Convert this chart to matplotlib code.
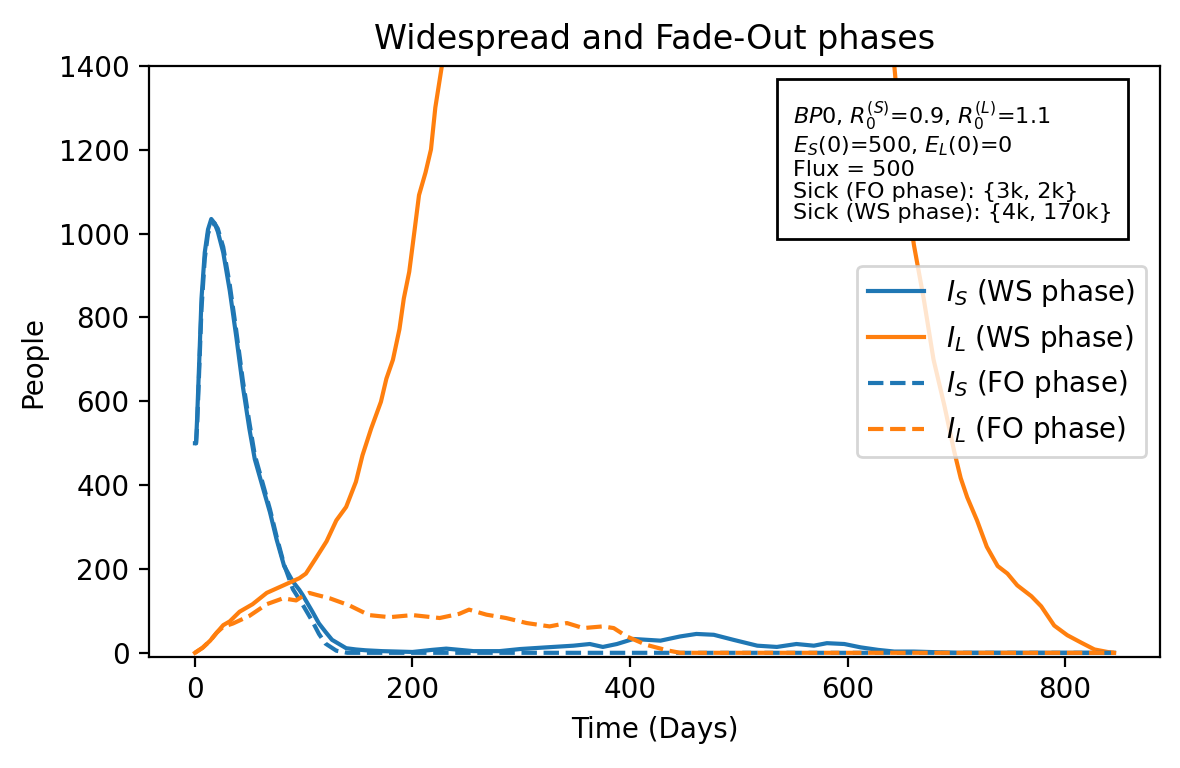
import matplotlib
matplotlib.use("Agg")
import matplotlib.pyplot as plt

# ---- data ----
t_is_ws = [0, 1, 2, 4, 6, 9, 12, 15, 18, 21, 26, 32, 38, 44, 50, 55, 63, 69, 75, 82, 90, 96, 99,
           108, 114, 120, 126, 139, 148, 157, 172, 200, 218, 231, 256, 280, 299, 323, 348, 363,
           375, 388, 403, 428, 446, 461, 477, 495, 517, 535, 553, 569, 581, 597, 612, 628, 643,
           661, 700, 750, 800, 845]
v_is_ws = [500, 500, 560, 700, 845, 955, 1010, 1035, 1025, 1005, 955, 864, 754, 636, 535, 462,
           389, 335, 271, 207, 170, 150, 138, 98, 70, 50, 31, 11, 8, 6, 4, 2, 7, 10, 4, 4, 9, 13,
           17, 21, 14, 21, 33, 29, 39, 45, 43, 31, 17, 14, 21, 17, 23, 21, 13, 7, 3, 3, 0, 0, 0, 0]

t_il_ws = [0, 7, 14, 20, 26, 32, 41, 53, 66, 78, 90, 96, 102, 111, 121, 130, 139, 148, 154, 162,
           171, 176, 182, 188, 192, 197, 202, 206, 212, 217, 221, 227, 245, 270, 300, 340, 380,
           420, 460, 510, 560, 610, 643, 652, 661, 670, 679, 689, 698, 704, 710, 719, 728, 738,
           747, 756, 769, 778, 790, 802, 815, 827, 839, 845]
v_il_ws = [0, 12, 29, 48, 66, 75, 98, 116, 143, 157, 171, 178, 189, 225, 266, 316, 348, 408, 471,
           535, 599, 654, 699, 772, 845, 909, 1010, 1092, 1146, 1201, 1301, 1400, 2000, 2800,
           3800, 4800, 5500, 5800, 5500, 4600, 3400, 2300, 1400, 1137, 973, 845, 700, 590, 481,
           417, 371, 316, 253, 207, 189, 161, 135, 111, 65, 42, 24, 8, 2, 0]

t_is_fo = [0, 1, 2, 4, 6, 9, 12, 15, 18, 21, 26, 32, 38, 44, 50, 55, 63, 69, 75, 82, 90, 99, 108,
           114, 120, 130, 140, 845]
v_is_fo = [500, 500, 540, 680, 820, 940, 1000, 1020, 1025, 1012, 968, 878, 768, 650, 550, 472,
           398, 342, 278, 210, 152, 115, 75, 45, 22, 5, 0, 0]

t_il_fo = [0, 7, 14, 20, 26, 35, 50, 66, 81, 93, 99, 105, 112, 124, 142, 160, 179, 200, 225, 243,
           252, 268, 286, 305, 326, 342, 357, 375, 385, 397, 415, 434, 446, 600, 845]
v_il_fo = [0, 12, 29, 48, 62, 70, 88, 116, 130, 125, 135, 143, 138, 130, 113, 90, 85, 90, 83, 93,
           103, 91, 83, 71, 63, 71, 59, 63, 59, 39, 19, 6, 0, 0, 0]

labels = [r"$I_S$ (WS phase)", r"$I_L$ (WS phase)", r"$I_S$ (FO phase)", r"$I_L$ (FO phase)"]
info_lines = [r"$BP0$, $R_0^{(S)}$=0.9, $R_0^{(L)}$=1.1",
              r"$E_S(0)$=500, $E_L(0)$=0",
              "Flux = 500",
              "Sick (FO phase): {3k, 2k}",
              "Sick (WS phase): {4k, 170k}"]

# ---- figure ----
fig = plt.figure(figsize=(5.9, 3.84), dpi=200)
ax = fig.add_axes([149 / 1180, 1 - 657 / 768, (1160 - 149) / 1180, (657 - 66) / 768])

ax.plot(t_is_ws, v_is_ws, color="C0", label=labels[0])
ax.plot(t_il_ws, v_il_ws, color="C1", label=labels[1])
ax.plot(t_is_fo, v_is_fo, color="C0", linestyle="--", label=labels[2])
ax.plot(t_il_fo, v_il_fo, color="C1", linestyle="--", label=labels[3])

ax.set_ylim(-10, 1400)
ax.set_xlabel("Time (Days)")
ax.set_ylabel("People")
ax.set_title("Widespread and Fade-Out phases", fontsize=12)

ax.legend(loc="center right", fontsize=10)
ax.text(0.637, 0.944, "\n".join(info_lines), transform=ax.transAxes, fontsize=8,
        linespacing=1.12, ha="left", va="top",
        bbox=dict(boxstyle="square,pad=0.7", facecolor="white", edgecolor="black"))

fig.savefig("out.png", dpi=200)
